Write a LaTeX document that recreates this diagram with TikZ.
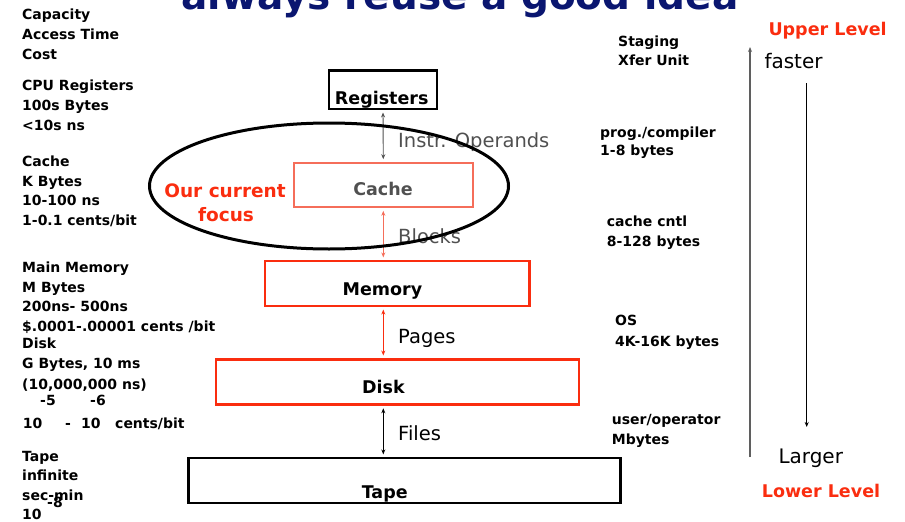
\documentclass[tikz,border=0pt]{standalone}
\usepackage{fontspec}
\setmainfont{DejaVu Sans}
\usetikzlibrary{arrows.meta,shapes.geometric}
\definecolor{hred}{RGB}{250,45,15}
\definecolor{salmon}{RGB}{245,110,90}
\definecolor{dgray}{RGB}{80,80,80}
\definecolor{mgray}{RGB}{95,95,95}
\definecolor{navy}{RGB}{10,22,112}
\begin{document}
\begin{tikzpicture}[x=1pt,y=-1pt,
  txt/.style={anchor=base west,inner sep=0pt,font=\fontsize{14}{16}\selectfont\bfseries},
  lvl/.style={anchor=base west,inner sep=0pt,text=hred,font=\fontsize{17.5}{20}\selectfont\bfseries},
  big/.style={anchor=base west,inner sep=0pt,font=\fontsize{20}{24}\selectfont},
  flow/.style={anchor=base west,inner sep=0pt,font=\fontsize{19.5}{24}\selectfont},
  boxlab/.style={anchor=base,inner sep=0pt,font=\fontsize{17.5}{20}\selectfont\bfseries},
  levelbox/.style={draw,inner sep=0pt,line width=2.5pt},
  tip/.tip={Stealth[length=5pt,width=4pt]},
  arr/.style={tip-tip,line width=0.9pt,shorten <=2.5pt,shorten >=2.5pt},
]
\useasboundingbox (0,0) rectangle (905,522);

% title (cut off at the top)
\begin{scope}
\clip (0,0) rectangle (905,522);
\node[anchor=base,inner sep=0pt,text=navy,font=\fontsize{39}{42}\selectfont\bfseries] (ttl) at (460,9.5) {always reuse a good idea};
\end{scope}

% left column
\foreach \n/\y/\t in {c1/19.5/Capacity, c2/39.5/Access Time, c3/59.5/Cost,
  c4/90.5/CPU Registers, c5/110/100s Bytes, c6/130/{<10s ns},
  c7/166/Cache, c8/186/K Bytes, c9/205.7/10-100 ns, c10/225.7/{1-0.1 cents/bit},
  c11/272.3/Main Memory, c12/292.3/M Bytes, c13/311.7/200ns- 500ns, c14/331.7/{\$.0001-.00001 cents /bit},
  c15/348.3/Disk, c16/368.3/{G Bytes, 10 ms}, c17/389/{(10,000,000 ns)},
  c18/461/Tape, c19/480.7/infinite, c20/500/sec-min, c21/519/10}
  \node[txt] (\n) at (22,\y) {\t};
\node[txt] (e5) at (40,405) {-5};
\node[txt] (e6) at (90,405) {-6};
\node[txt] (e8) at (47,507) {-8};
\node[txt] (d1) at (22.7,428.3) {10};
\node[txt] (d2) at (65,428.3) {-};
\node[txt] (d3) at (81,428.3) {10};
\node[txt] (d4) at (115,428.3) {cents/bit};

% right column
\node[txt] (r1) at (618,46) {Staging};
\node[txt] (r2) at (618,65) {Xfer Unit};
\node[txt] (r3) at (600,137.3) {prog./compiler};
\node[txt] (r4) at (600,155.5) {1-8 bytes};
\node[txt] (r5) at (606.7,226.7) {cache cntl};
\node[txt] (r6) at (606.7,246) {8-128 bytes};
\node[txt] (r7) at (615,325.7) {OS};
\node[txt] (r8) at (615,346) {4K-16K bytes};
\node[txt] (r9) at (611.7,424.3) {user/operator};
\node[txt] (r10) at (611.7,444.3) {Mbytes};

% level labels
\node[lvl] (up) at (768.3,35) {Upper Level};
\node[lvl] (low) at (761.7,497.7) {Lower Level};
\node[big] (fast) at (764.3,68.3) {faster};
\node[big] (larg) at (778.3,463.3) {Larger};

% side arrows
\coordinate (gB) at (750,457);
\coordinate (gT) at (750,47);
\draw[-tip,line width=1.2pt,mgray] (gB) -- (gT);
\coordinate (fT) at (806.7,83);
\coordinate (fB) at (806.7,427);
\draw[-tip,line width=0.9pt] (fT) -- (fB);

% level boxes
\node[levelbox,minimum width=108pt,minimum height=38.3pt] (reg) at (383,89.6) {};
\node[levelbox,draw=salmon,line width=2pt,minimum width=179.3pt,minimum height=44.6pt] (cache) at (383.3,185) {};
\node[levelbox,draw=hred,minimum width=264.3pt,minimum height=44.6pt] (mem) at (397.3,283.5) {};
\node[levelbox,draw=hred,minimum width=362.6pt,minimum height=45.3pt] (disk) at (397.5,381.9) {};
\node[levelbox,minimum width=432.3pt,minimum height=44.6pt] (tape) at (404.4,480.5) {};

\node[boxlab] (regt) at (381.7,104.3) {Registers};
\node[boxlab,text=dgray] (cachet) at (383,195) {Cache};
\node[boxlab] (memt) at (382.5,295) {Memory};
\node[boxlab] (diskt) at (383.5,393.3) {Disk};
\node[boxlab] (tapet) at (384.7,498.3) {Tape};

% transfers
\draw[arr,dgray] (reg.south) -- (cache.north);
\draw[arr,salmon] (cache.south) -- (cache.south |- mem.north);
\draw[arr,hred] (cache.south |- mem.south) -- (cache.south |- disk.north);
\draw[arr,black] (cache.south |- disk.south) -- (cache.south |- tape.north);

\node[flow,text=dgray] (l1) at (398,147) {Instr. Operands};
\node[flow,text=dgray] (l2) at (398,243.5) {Blocks};
\node[flow] (l3) at (398,343) {Pages};
\node[flow] (l4) at (398,440) {Files};

% focus ellipse
\node[draw,ellipse,line width=3pt,minimum width=359pt,minimum height=126pt,inner sep=0pt] (focus) at (329,186) {};
\node[anchor=base,inner sep=0pt,text=hred,font=\fontsize{18.5}{22}\selectfont\bfseries] (oc1) at (225,197.3) {Our current};
\node[anchor=base,inner sep=0pt,text=hred,font=\fontsize{18.5}{22}\selectfont\bfseries] (oc2) at (226,221.7) {focus};
\end{tikzpicture}
\end{document}
